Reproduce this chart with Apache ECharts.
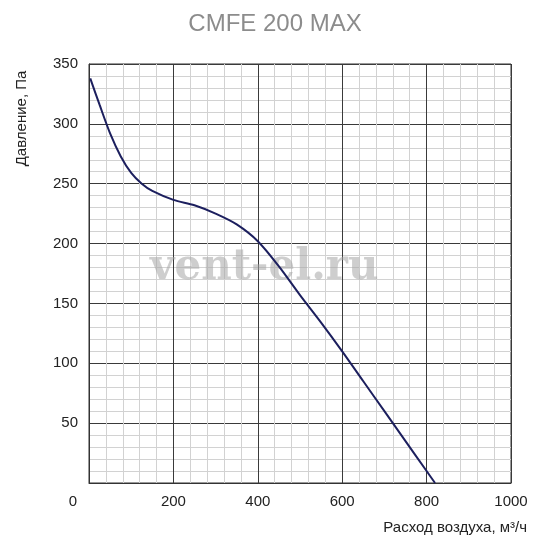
<!DOCTYPE html>
<html>
<head>
<meta charset="utf-8">
<script src="https://cdn.jsdelivr.net/npm/echarts@6/dist/echarts.min.js"></script>
<style>
html,body{margin:0;padding:0;background:#fff;}
#chart{width:550px;height:550px;}
</style>
</head>
<body>
<div id="chart"></div>
<script>
// Data
var chartTitle = 'CMFE 200 MAX';
var xAxisName = 'Расход воздуха, м³/ч';
var yAxisName = 'Давление, Па';
var watermarkText = 'vent-el.ru';

var airflow  = [3, 25, 50, 75, 100, 125, 150, 200, 250, 300, 350, 400, 450, 500, 550, 600, 650, 700, 750, 800, 820];
var pressure = [338, 316, 292, 273, 259, 250, 244, 236.5, 232, 225, 216, 202, 181, 157, 134, 110, 85, 60, 35, 10, 0];

var xMin = 0, xMax = 1000, xStep = 200;
var yMin = 0, yMax = 350, yStep = 50;

var curve = airflow.map(function (x, i) { return [x, pressure[i]]; });

var font = 'Liberation Sans, Arial, Helvetica, sans-serif';
var chart = echarts.init(document.getElementById('chart'));
chart.setOption({
  animation: false,
  backgroundColor: '#ffffff',
  title: {
    text: chartTitle,
    left: 'center',
    top: 7,
    textStyle: { fontFamily: font, fontSize: 24, fontWeight: 'normal', color: '#8c8c8c' }
  },
  grid: {
    left: 89, right: 39, top: 64, bottom: 67,
    show: true, borderColor: '#333', borderWidth: 1, backgroundColor: 'transparent'
  },
  xAxis: {
    type: 'value',
    min: xMin, max: xMax, interval: xStep,
    name: xAxisName,
    nameLocation: 'end',
    nameGap: 16,
    nameTextStyle: {
      fontFamily: font, fontSize: 15, color: '#222',
      align: 'right', verticalAlign: 'top', padding: [37, 0, 0, 0]
    },
    axisLine: { show: true, lineStyle: { color: '#333', width: 1 } },
    axisTick: { show: false },
    axisLabel: {
      margin: 11,
      fontFamily: font, fontSize: 15, color: '#222',
      formatter: function (v) { return v === 0 ? '{z|0}' : String(v); },
      rich: { z: { fontFamily: font, fontSize: 15, color: '#222', padding: [0, 32, 0, 0] } }
    },
    splitLine: { show: true, lineStyle: { color: '#3a3a3a', width: 1 } },
    minorTick: { show: false, splitNumber: 5 },
    minorSplitLine: { show: true, lineStyle: { color: '#d2d2d2', width: 1 } }
  },
  yAxis: {
    type: 'value',
    min: yMin, max: yMax, interval: yStep,
    name: yAxisName,
    nameLocation: 'middle',
    nameGap: 60,
    nameTextStyle: { fontFamily: font, fontSize: 15, color: '#222', padding: [0, 0, 0, 310] },
    axisLine: { show: true, lineStyle: { color: '#333', width: 1 } },
    axisTick: { show: false },
    axisLabel: {
      margin: 11,
      fontFamily: font, fontSize: 15, color: '#222',
      formatter: function (v) { return v === 0 ? '' : String(v); }
    },
    splitLine: { show: true, lineStyle: { color: '#3a3a3a', width: 1 } },
    minorTick: { show: false, splitNumber: 5 },
    minorSplitLine: { show: true, lineStyle: { color: '#d2d2d2', width: 1 } }
  },
  graphic: [{
    type: 'text',
    left: 150,
    top: 247,
    z: 5,
    style: {
      text: watermarkText,
      font: 'bold 42px "DejaVu Serif", serif',
      fill: 'rgba(165,165,165,0.55)'
    }
  }],
  series: [{
    type: 'line',
    data: curve,
    smooth: 0.3,
    showSymbol: false,
    z: 10,
    lineStyle: { color: '#1c1f5e', width: 2 }
  }]
});
</script>
</body>
</html>
